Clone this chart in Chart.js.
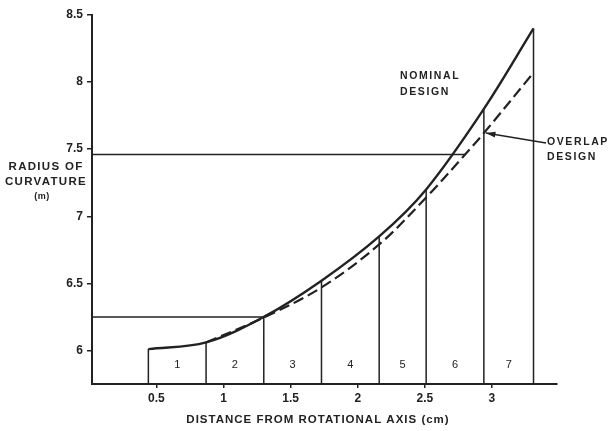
<!DOCTYPE html>
<html>
<head>
<meta charset="utf-8">
<script src="https://cdn.jsdelivr.net/npm/chart.js@4/dist/chart.umd.min.js"></script>
<style>
  html, body { margin: 0; padding: 0; background: #fff; }
</style>
</head>
<body>
<canvas id="chart" width="612" height="431"></canvas>
<script>
// tick labels
const xTicks = [0.5, 1, 1.5, 2, 2.5, 3];
const yTicks = [6, 6.5, 7, 7.5, 8, 8.5];

// nominal design curve (solid)
const nominalX = [0.44, 0.87, 1.30, 1.73, 2.16, 2.51, 2.94, 3.31];
const nominalY = [6.01, 6.06, 6.25, 6.52, 6.85, 7.20, 7.80, 8.40];

// overlap design curve (dashed)
const overlapX = [0.87, 1.30, 1.73, 2.16, 2.51, 2.80, 2.94, 3.31];
const overlapY = [6.06, 6.245, 6.47, 6.79, 7.14, 7.46, 7.62, 8.07];

// zone boundaries and their heights
const blockEdges = [0.44, 0.87, 1.30, 1.73, 2.16, 2.51, 2.94, 3.31];
const blockTops = [6.01, 6.06, 6.25, 6.52, 6.85, 7.20, 7.80, 8.40];
const blockLabels = ["1", "2", "3", "4", "5", "6", "7"];

// horizontal reference lines
const guideLevels = [7.46, 6.25];
const guideEnds = [2.80, 1.30];

const X_MIN = 0.02, X_MAX = 3.485, Y_MIN = 5.75, Y_MAX = 8.5;
const INK = "#222";

const toPoints = (xs, ys) => xs.map((x, i) => ({ x: x, y: ys[i] }));

const edgePoints = [];
blockEdges.forEach((e, i) => {
  edgePoints.push({ x: e, y: Y_MIN }, { x: e, y: blockTops[i] }, { x: e, y: null });
});

const guidePoints = [];
guideLevels.forEach((lv, i) => {
  guidePoints.push({ x: X_MIN, y: lv }, { x: guideEnds[i], y: lv }, { x: guideEnds[i], y: null });
});

// text and arrow drawn on top of the plot
const notes = {
  id: "notes",
  afterDraw(chart) {
    const { ctx, scales: { x, y } } = chart;
    ctx.save();
    ctx.fillStyle = INK;
    ctx.strokeStyle = INK;
    ctx.textBaseline = "middle";

    // zone numbers
    ctx.font = "11px 'Liberation Sans'";
    ctx.textAlign = "center";
    blockLabels.forEach((t, i) => {
      const cx = (x.getPixelForValue(blockEdges[i]) + x.getPixelForValue(blockEdges[i + 1])) / 2;
      ctx.fillText(t, cx, y.getPixelForValue(5.89));
    });

    // curve labels
    ctx.font = "bold 10.5px 'Liberation Sans'";
    ctx.letterSpacing = "1.6px";
    ctx.textAlign = "left";
    ctx.fillText("NOMINAL", 400, 76);
    ctx.fillText("DESIGN", 400, 92);
    ctx.fillText("OVERLAP", 547, 142);
    ctx.fillText("DESIGN", 547, 157);

    // arrow to the overlap curve
    const tx = x.getPixelForValue(2.94) + 2, ty = y.getPixelForValue(7.62);
    const sx = 546, sy = 143;
    ctx.lineWidth = 1.5;
    ctx.beginPath();
    ctx.moveTo(sx, sy);
    ctx.lineTo(tx, ty);
    ctx.stroke();
    const ang = Math.atan2(ty - sy, tx - sx);
    ctx.beginPath();
    ctx.moveTo(tx, ty);
    ctx.lineTo(tx - 10 * Math.cos(ang - 0.3), ty - 10 * Math.sin(ang - 0.3));
    ctx.lineTo(tx - 10 * Math.cos(ang + 0.3), ty - 10 * Math.sin(ang + 0.3));
    ctx.closePath();
    ctx.fill();

    // axis titles
    ctx.font = "bold 11.5px 'Liberation Sans'";
    ctx.letterSpacing = "1.3px";
    ctx.textAlign = "center";
    ctx.fillText("RADIUS OF", 46, 167);
    ctx.fillText("CURVATURE", 46, 182);
    ctx.font = "bold 9px 'Liberation Sans'";
    ctx.letterSpacing = "0.5px";
    ctx.fillText("(m)", 42, 197);
    ctx.font = "bold 11.5px 'Liberation Sans'";
    ctx.letterSpacing = "1px";
    ctx.fillText("DISTANCE FROM ROTATIONAL AXIS (cm)", 318, 420);
    ctx.restore();
  }
};

new Chart(document.getElementById("chart"), {
  type: "scatter",
  data: {
    datasets: [
      {
        data: toPoints(nominalX, nominalY),
        showLine: true,
        borderColor: INK,
        borderWidth: 2.4,
        pointRadius: 0,
        tension: 0.35
      },
      {
        data: toPoints(overlapX, overlapY),
        showLine: true,
        borderColor: INK,
        borderWidth: 2.2,
        borderDash: [11, 5],
        pointRadius: 0,
        tension: 0.35
      },
      {
        data: edgePoints,
        showLine: true,
        spanGaps: false,
        borderColor: INK,
        borderWidth: 1.5,
        pointRadius: 0
      },
      {
        data: guidePoints,
        showLine: true,
        spanGaps: false,
        borderColor: INK,
        borderWidth: 1.5,
        pointRadius: 0
      }
    ]
  },
  options: {
    responsive: false,
    animation: false,
    layout: { padding: { top: 15, right: 55, left: 0, bottom: 0 } },
    plugins: { legend: { display: false }, tooltip: { enabled: false } },
    scales: {
      x: {
        type: "linear",
        min: X_MIN,
        max: X_MAX,
        afterBuildTicks: (s) => { s.ticks = xTicks.map(v => ({ value: v })); },
        afterFit: (s) => { s.height = 47; },
        grid: { drawOnChartArea: false, drawTicks: true, tickLength: 4, color: INK, lineWidth: 1.5 },
        border: { display: true, color: INK, width: 2 },
        ticks: {
          color: INK,
          padding: 3,
          maxRotation: 0,
          callback: (v) => String(v),
          font: { family: "'Liberation Sans'", size: 12, weight: "bold" }
        }
      },
      y: {
        type: "linear",
        min: Y_MIN,
        max: Y_MAX,
        afterBuildTicks: (s) => { s.ticks = yTicks.map(v => ({ value: v })); },
        afterFit: (s) => { s.width = 92; },
        grid: { drawOnChartArea: false, drawTicks: true, tickLength: 5, color: INK, lineWidth: 1.5 },
        border: { display: true, color: INK, width: 2 },
        ticks: {
          color: INK,
          padding: 4,
          callback: (v) => String(v),
          font: { family: "'Liberation Sans'", size: 12, weight: "bold" }
        }
      }
    }
  },
  plugins: [notes]
});
</script>
</body>
</html>
